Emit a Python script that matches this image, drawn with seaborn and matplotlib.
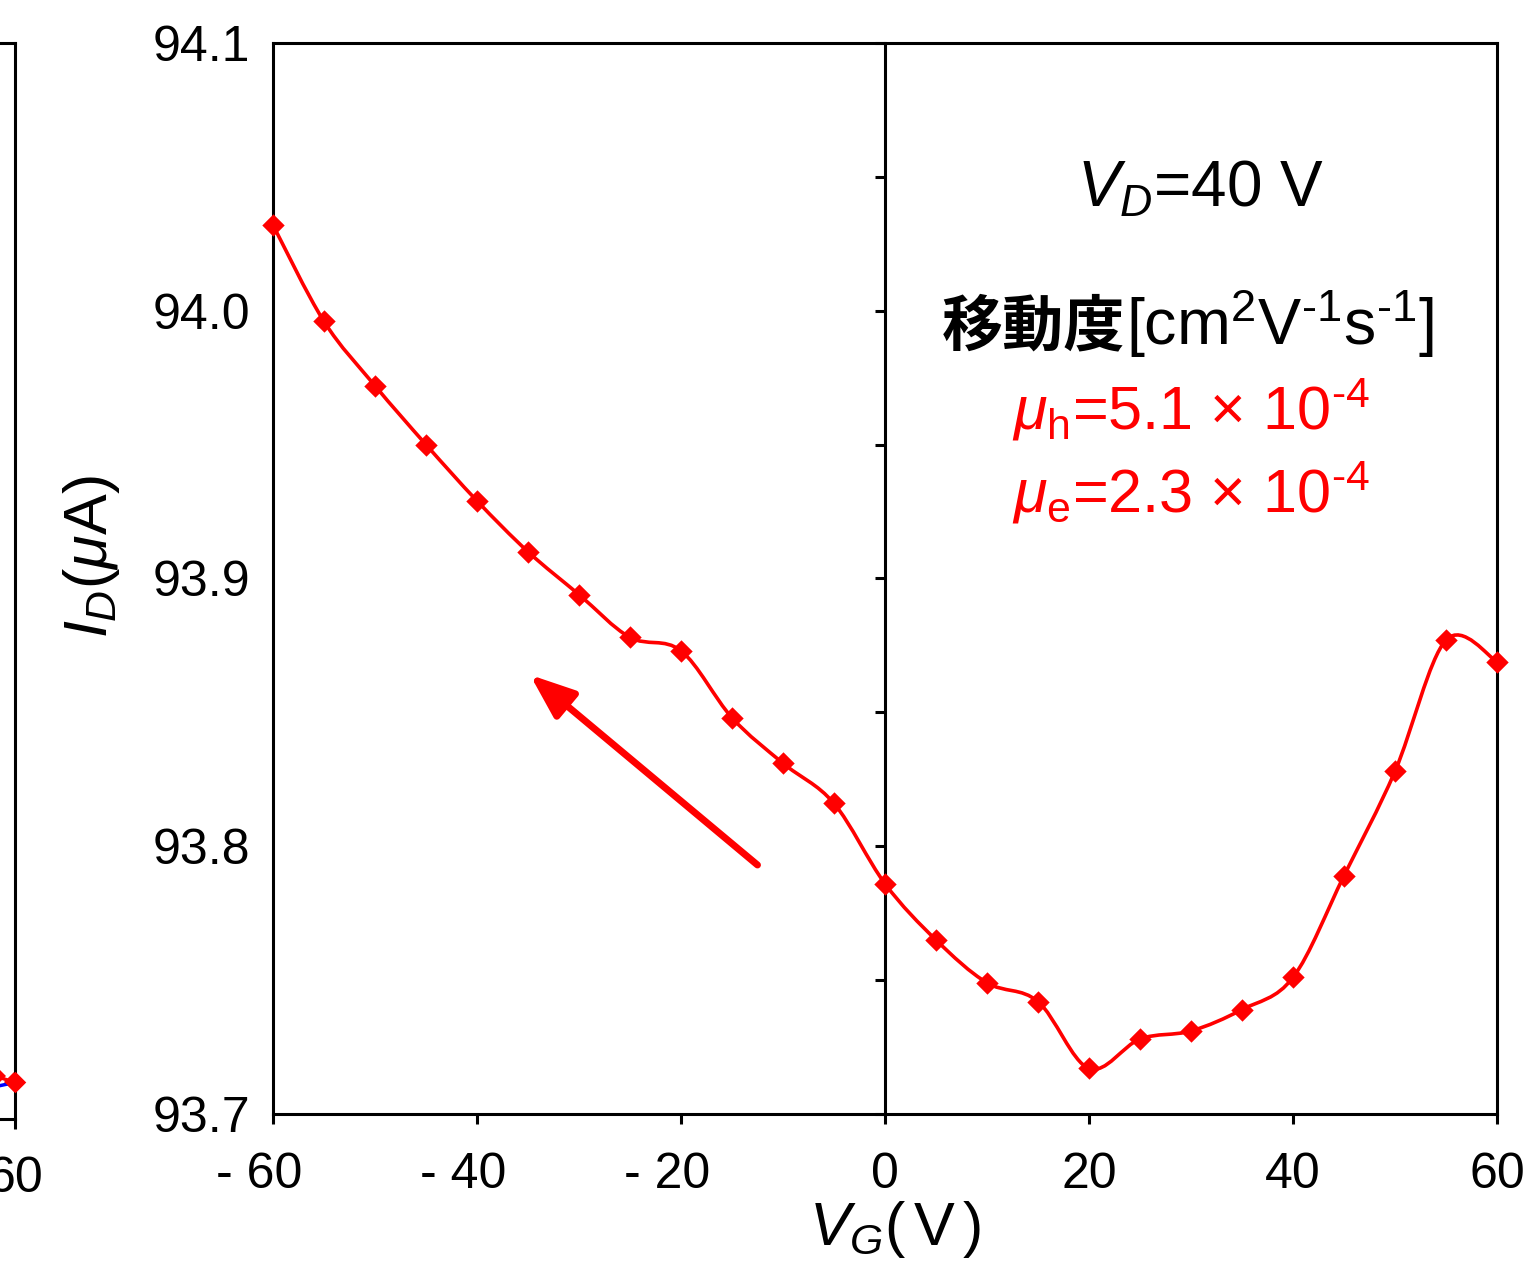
import numpy as np
import matplotlib
matplotlib.use("Agg")
import matplotlib.pyplot as plt
from matplotlib.path import Path
from matplotlib.patches import PathPatch
import matplotlib.transforms as mtransforms
import seaborn as sns
import pandas as pd

# ---------------- data ----------------
vg = [-60, -55, -50, -45, -40, -35, -30, -25, -20, -15, -10, -5, 0,
      5, 10, 15, 20, 25, 30, 35, 40, 45, 50, 55, 60]
id_ua = [94.032, 93.996, 93.972, 93.950, 93.929, 93.910, 93.894, 93.878,
         93.873, 93.848, 93.831, 93.816, 93.786, 93.765, 93.749, 93.742,
         93.717, 93.728, 93.731, 93.739, 93.751, 93.789, 93.828, 93.877,
         93.869]

xtick_vals = [-60, -40, -20, 0, 20, 40, 60]
xtick_labels = ["- 60", "- 40", "- 20", "0", "20", "40", "60"]
ytick_vals = [93.7, 93.8, 93.9, 94.0, 94.1]
ytick_labels = ["93.7", "93.8", "93.9", "94.0", "94.1"]
zero_line_ticks = [93.7, 93.75, 93.8, 93.85, 93.9, 93.95, 94.0, 94.05, 94.1]

# fragment of the neighbouring panel (cut at the left edge)
left_vg = [50, 55, 60]
left_red = [0.045, 0.040, 0.034]
left_blue = [0.026, 0.030, 0.034]
left_tick_vals = [60]
left_tick_labels = ["60"]

arrow_tail = (-12.5, 93.793)
arrow_head = (-34.8, 93.864)

RED = "#ff0000"

# ---------------- style ----------------
sns.set_style("white")
plt.rcParams["font.family"] = ["Liberation Sans", "Noto Sans CJK JP", "DejaVu Sans"]
plt.rcParams["mathtext.fontset"] = "custom"
plt.rcParams["mathtext.rm"] = "Liberation Sans"
plt.rcParams["mathtext.it"] = "Liberation Sans:italic"
plt.rcParams["mathtext.bf"] = "Liberation Sans:bold"
for k in ["text.color", "axes.labelcolor", "xtick.color", "ytick.color"]:
    plt.rcParams[k] = "black"

W, H = 1540, 1273
fig = plt.figure(figsize=(W / 100, H / 100), dpi=100)

SPW = 2.2
TICK_FS = 36

# ---- neighbouring panel fragment ----
axL = fig.add_axes([-465 / W, 1 - 1119 / H, 480 / W, (1119 - 43) / H])
axL.set_xlim(-60, 60)
axL.set_ylim(0, 1)
dfL = pd.DataFrame({"vg": left_vg, "red": left_red, "blue": left_blue})
sns.lineplot(data=dfL, x="vg", y="red", ax=axL, color=RED, lw=2.5,
             marker="D", markersize=11, markeredgewidth=0)
sns.lineplot(data=dfL, x="vg", y="blue", ax=axL, color="blue", lw=2.5)
sns.scatterplot(data=dfL.tail(1), x="vg", y="red", ax=axL, color=RED,
                marker="D", s=120, linewidth=0, zorder=5, clip_on=False)
axL.set_xticks(left_tick_vals)
axL.set_xticklabels(left_tick_labels)
axL.set_yticks([])
axL.set_xlabel("")
axL.set_ylabel("")
axL.tick_params(axis="x", direction="out", length=7, width=SPW,
                labelsize=TICK_FS, pad=20, bottom=True)
for s in axL.spines.values():
    s.set_linewidth(SPW)
    s.set_color("black")

# ---- main panel ----
ax = fig.add_axes([273 / W, 1 - 1114 / H, 1224 / W, 1071 / H])
tw = ax.twinx()

df = pd.DataFrame({"VG": vg, "ID": id_ua})

# smooth (Excel-like) curve through the measured points
pts = df[["VG", "ID"]].to_numpy(dtype=float)
n = len(pts)
verts = [pts[0]]
codes = [Path.MOVETO]
for i in range(n - 1):
    p0 = pts[i - 1] if i > 0 else pts[i]
    p1, p2 = pts[i], pts[i + 1]
    p3 = pts[i + 2] if i + 2 < n else pts[i + 1]
    verts += [p1 + (p2 - p0) / 6, p2 - (p3 - p1) / 6, p2]
    codes += [Path.CURVE4] * 3
ax.add_patch(PathPatch(Path(verts, codes), facecolor="none", edgecolor=RED,
                       lw=2.6, zorder=3))

sns.scatterplot(data=df, x="VG", y="ID", ax=ax, color=RED, marker="D",
                s=130, linewidth=0, zorder=4, clip_on=False)

ax.set_xlim(-60, 60)
ax.set_ylim(93.7, 94.1)
ax.set_xticks(xtick_vals)
ax.set_xticklabels(xtick_labels)
ax.set_yticks(ytick_vals)
ax.set_yticklabels(ytick_labels)
ax.tick_params(axis="y", length=0, labelsize=TICK_FS, pad=16.5)
ax.tick_params(axis="x", direction="out", length=7, width=SPW,
               labelsize=TICK_FS, pad=20, bottom=True)
for s in ax.spines.values():
    s.set_visible(True)
    s.set_linewidth(SPW)
    s.set_color("black")

# shift the "- xx" labels a bit to the left like in the original
for lab in ax.get_xticklabels():
    if lab.get_text().startswith("-"):
        lab.set_transform(lab.get_transform() +
                          mtransforms.ScaledTranslation(-14 / 100, 0,
                                                        fig.dpi_scale_trans))

ax.set_xlabel(r"$V_G$($\,$V$\,$)", fontsize=44)
ax.xaxis.set_label_coords(0.508, -0.079)
ax.set_ylabel(r"$I_D$($\mu$A)", fontsize=44)
ax.yaxis.set_label_coords(-0.123, 0.52)

# zero line with its own ticks
tw.set_ylim(93.7, 94.1)
for k in ["right", "top", "bottom"]:
    tw.spines[k].set_visible(False)
tw.spines["left"].set_visible(True)
tw.spines["left"].set_position(("data", 0))
tw.spines["left"].set_linewidth(SPW)
tw.spines["left"].set_color("black")
tw.yaxis.set_ticks_position("left")
tw.set_yticks(zero_line_ticks)
tw.tick_params(axis="y", direction="out", length=7, width=SPW,
               labelleft=False, labelright=False)
ax.set_zorder(tw.get_zorder() + 1)
ax.patch.set_visible(False)

# arrow
ax.annotate("", xy=arrow_head, xytext=arrow_tail,
            arrowprops=dict(arrowstyle="-|>,head_length=27,head_width=10.5",
                            mutation_scale=1, color=RED, lw=5,
                            shrinkA=0, shrinkB=0))

# texts
ax.text(30.9, 94.0387, r"$V_D$=40 V", fontsize=46, ha="center",
        va="baseline", color="black")
ax.text(23.5, 93.9872, "移動度", fontsize=44, ha="right", va="baseline",
        color="black", fontweight="bold",
        family=["Noto Sans CJK JP", "DejaVu Sans"])
ax.text(23.6, 93.9872, r"[cm$^2$V$^{\text{-}1}$s$^{\text{-}1}$]", fontsize=46.5,
        ha="left", va="baseline", color="black")
ax.text(30.0, 93.9555, r"$\mu_{\mathrm{h}}$=5.1 × 10$^{\text{-}4}$", fontsize=44,
        ha="center", va="baseline", color=RED)
ax.text(30.0, 93.9245, r"$\mu_{\mathrm{e}}$=2.3 × 10$^{\text{-}4}$", fontsize=44,
        ha="center", va="baseline", color=RED)

fig.savefig("out.png", dpi=100)
